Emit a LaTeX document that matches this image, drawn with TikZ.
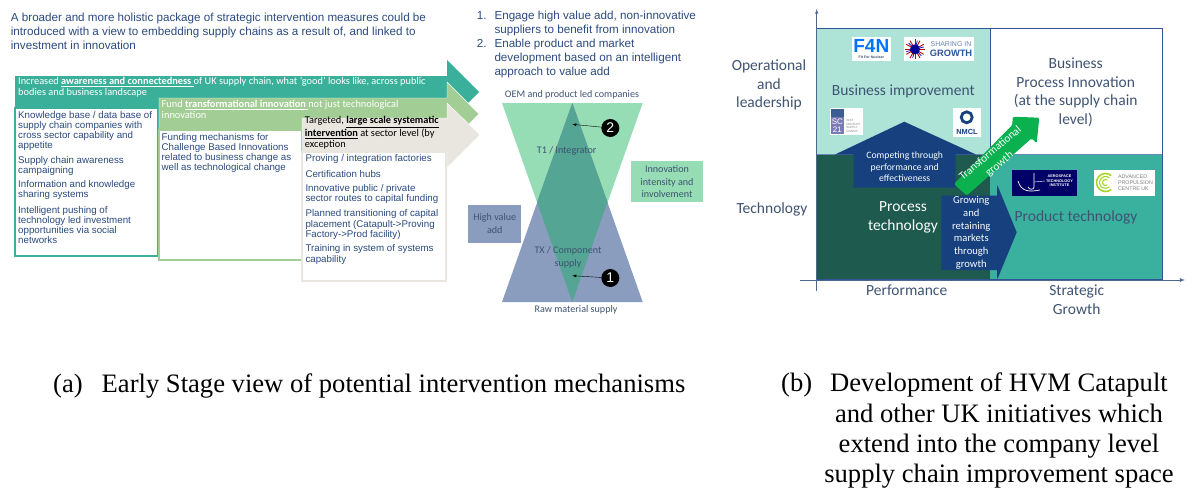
\documentclass[tikz,border=0pt]{standalone}
\usepackage{fontspec}
\setmainfont{Carlito}
\newfontfamily\arialfont{Liberation Sans}
\newfontfamily\timesfont{Liberation Serif}
\definecolor{navytext}{HTML}{2A4A7F}
\definecolor{slatetext}{HTML}{3F5372}
\definecolor{tealband}{HTML}{3AB09A}
\definecolor{greenband}{HTML}{A2CD94}
\definecolor{greyband}{HTML}{E9E6DF}
\definecolor{uppertri}{HTML}{96DDB5}
\definecolor{lowertri}{HTML}{8A9DBF}
\definecolor{overlap}{HTML}{54A594}
\definecolor{paleteal}{HTML}{AEE4D8}
\definecolor{darkteal}{HTML}{1F5A4E}
\definecolor{midteal}{HTML}{3AB09E}
\definecolor{arrowblue}{HTML}{17407F}
\definecolor{framblue}{HTML}{2F5597}
\definecolor{growgreen}{HTML}{0BB14F}
\definecolor{limering}{HTML}{A4D62E}
\tikzset{
  headtext/.style={font=\arialfont\fontsize{11.65}{14}\selectfont, text=navytext, align=left, anchor=west, inner sep=0},
  bodytext/.style={font=\arialfont\fontsize{9.75}{10.1}\selectfont, text=navytext, align=left, anchor=west, inner sep=0},
  bandtext/.style={font=\fontsize{10.35}{11.3}\selectfont, align=left, anchor=west, inner sep=0},
  tritext/.style={font=\fontsize{10.1}{12.7}\selectfont, text=slatetext, align=center, inner sep=0},
  axistext/.style={font=\fontsize{15.5}{18.8}\selectfont, text=slatetext, align=center, inner sep=0},
  cellarrow/.style={font=\fontsize{9.7}{11.8}\selectfont, text=white!90!paleteal, align=center, inner sep=0},
  captiontext/.style={font=\timesfont\fontsize{26.6}{30.3}\selectfont, align=center, inner sep=0},
  logobox/.style={fill=white, draw=none},
  badge/.style={circle, fill=black, text=white, minimum size=18pt, inner sep=0, font=\arialfont\fontsize{14}{14}\selectfont}
}
\begin{document}
\begin{tikzpicture}[x=1pt,y=-1pt]
\useasboundingbox (0,0) rectangle (1186,490);
% left panel
\node[headtext] (intro) at (10.7,31.2) {A broader and more holistic package of strategic intervention measures could be\\introduced with a view to embedding supply chains as a result of, and linked to\\investment in innovation};
\fill[tealband] (15,76) -- (447,76) -- (447,60) -- (479,92) -- (447,124) -- (447,108) -- (15,108) -- cycle;
\draw[tealband, fill=white, line width=1.2pt] (15,108) rectangle (158,256);
\fill[greenband, draw=white] (159,98) -- (447,98) -- (447,82) -- (479,114) -- (447,146) -- (447,130) -- (159,130) -- cycle;
\draw[greenband, fill=white, line width=1.2pt] (159,130) rectangle (302,260);
\fill[greyband, draw=white] (302,118) -- (447,118) -- (447,103) -- (480,135) -- (447,168) -- (447,152) -- (302,152) -- cycle;
\draw[greyband, fill=white, line width=1.2pt] (302,152) rectangle (446,281);
\node[bandtext, text=white] (band1) at (18,87.2) {Increased \textbf{\underline{awareness and connectedness }}of UK supply chain, what ‘good’ looks like,  across public\\bodies and business landscape};
\node[bandtext, text=white] (band2) at (161.5,109.7) {Fund \textbf{\underline{transformational innovation }}not just technological\\innovation};
\node[bandtext, text=black] (band3) at (304.7,133) {Targeted, \textbf{\underline{large scale systematic}}\\\textbf{\underline{intervention}} at sector level (by\\exception};
\node[bodytext] (know) at (18,131) {Knowledge base / data base of\\supply chain companies with\\cross sector capability and\\appetite};
\node[bodytext] (aware) at (18,166) {Supply chain awareness\\campaigning};
\node[bodytext] (share) at (18,190.3) {Information and knowledge\\sharing systems};
\node[bodytext] (push) at (18,225.3) {Intelligent pushing of\\technology led investment\\opportunities via social\\networks};
\node[bodytext] (fund) at (161.5,153) {Funding mechanisms for\\Challenge Based Innovations\\related to business change as\\well as technological change};
\node[bodytext] (prove) at (305.3,159) {Proving / integration factories};
\node[bodytext] (cert) at (305.3,174.3) {Certification hubs};
\node[bodytext] (route) at (305.3,194.3) {Innovative public / private\\sector routes to capital funding};
\node[bodytext] (plan) at (305.3,224.5) {Planned transitioning of capital\\placement (Catapult->Proving\\Factory->Prod facility)};
\node[bodytext] (train) at (305.3,254.5) {Training in system of systems\\capability};
% middle panel
\node[headtext, anchor=north west] (num) at (476.7,11.2) {1.\\[14pt]2.};
\node[headtext, anchor=north west] (goal1) at (494.3,11.2) {Engage high value add, non-innovative\\suppliers to benefit from innovation\\Enable product and market\\development based on an intelligent\\approach to value add};
\fill[uppertri] (502,103) -- (642.7,103) -- (572.3,302) -- cycle;
\fill[lowertri] (502,302) -- (642.7,302) -- (572.3,103) -- cycle;
\fill[overlap] (572.3,103) -- (607.5,202) -- (572.3,302) -- (537,202) -- cycle;
\node[tritext] (oem) at (572,95) {OEM and product led companies};
\node[tritext] (t1) at (566.7,151) {T1 / Integrator};
\node[tritext] (tx) at (568,257) {TX / Component\\supply};
\node[tritext] (raw) at (576,310) {Raw material supply};
\node[tritext, fill=uppertri, minimum width=72.6pt, minimum height=40.7pt] (intens) at (667,181.6) {Innovation\\intensity and\\involvement};
\node[tritext, fill=lowertri, minimum width=53pt, minimum height=38pt] (hva) at (494.8,223.7) {High value\\add};
\coordinate (mark2) at (572.3,124.3);
\coordinate (mark1) at (572.3,275.7);
\node[badge] (two) at (610.3,128) {2};
\node[badge] (one) at (610.3,278) {1};
\draw[-latex, black] (two) -- (mark2);
\draw[-latex, black] (one) -- (mark1);
% right panel
\fill[paleteal] (816.7,28.7) rectangle (990,154);
\fill[darkteal] (816.7,154) rectangle (990,279.3);
\fill[midteal] (990,154) rectangle (1162.3,279.3);
\draw[framblue, line width=.8pt] (816.7,28.7) rectangle (1162.3,279.3);
\draw[framblue, line width=.8pt] (990,28.7) -- (990,154);
\draw[framblue!70, line width=.8pt] (816.7,154) -- (1162.3,154);
\coordinate (xstart) at (800,280);
\coordinate (xend) at (1185,280);
\coordinate (ystart) at (816.7,291);
\coordinate (yend) at (816.7,9);
\draw[-latex, framblue!60!gray, line width=.8pt] (xstart) -- (xend);
\draw[-latex, framblue!60!gray, line width=.6pt] (ystart) -- (yend);
\fill[arrowblue] (904.3,121.7) -- (976,154.5) -- (955.7,154.5) -- (955.7,187.7) -- (853.7,187.7) -- (853.7,154.5) -- (835,154.5) -- cycle;
\fill[arrowblue] (941.3,195.7) -- (997,195.7) -- (997.3,185) -- (1016.7,232.3) -- (997.3,279.3) -- (997,270) -- (941.3,270) -- cycle;
\fill[growgreen, rounded corners=1.5pt] (954,184) -- (1012.3,125) -- (1012.7,116.7) -- (1039.3,117.7) -- (1036.7,143.3) -- (1031.7,138.3) -- (966.7,195.5) -- cycle;
\node[cellarrow] (compete) at (904.7,166.7) {Competing through\\performance and\\effectiveness};
\node[cellarrow, font=\fontsize{10.6}{12.9}\selectfont] (grow) at (971.3,232.8) {Growing\\and\\retaining\\markets\\through\\growth};
\node[cellarrow, rotate=40, font=\fontsize{11.2}{14}\selectfont] (trans) at (995,158.8) {Transformational\\growth};
\node[axistext] (oper) at (769,85) {Operational\\and\\leadership};
\node[axistext] (tech) at (772,209) {Technology};
\node[axistext] (perf) at (906.7,290.7) {Performance};
\node[axistext] (strat) at (1076.7,300) {Strategic\\Growth};
\node[axistext] (bimp) at (903.3,91.7) {Business improvement};
\node[axistext] (bpi) at (1075.7,92.3) {Business\\Process Innovation\\(at the supply chain\\level)};
\node[axistext, text=white!92!paleteal] (ptech) at (903,217) {Process\\technology};
\node[axistext] (prod) at (1076,217.3) {Product technology};
% logos
\fill[logobox] (852,37.3) rectangle (890.7,60.7);
\node[inner sep=0, text=blue!55!cyan, font=\arialfont\bfseries\fontsize{19}{19}\selectfont] (f4n) at (871.3,46) {F4N};
\node[inner sep=0, text=slatetext, font=\arialfont\bfseries\fontsize{3.6}{4}\selectfont] (f4nsub) at (871.3,57.5) {Fit For Nuclear};
\fill[logobox] (904,37.3) rectangle (974,60.7);
\foreach \ang in {0,30,...,330} {
  \draw[red!75!black, line width=.9pt] (915,49.3) -- ++(\ang:10pt);
}
\foreach \ang in {15,75,...,315} {
  \draw[blue!70!black, line width=.7pt] (915,49.3) -- ++(\ang:9pt);
}
\fill[blue!60!black] (915,49.3) circle (5pt);
\node[inner sep=0, text=framblue!70, font=\arialfont\fontsize{7}{7}\selectfont] (sharein) at (951,44) {SHARING IN};
\node[inner sep=0, text=framblue, font=\arialfont\bfseries\fontsize{9.3}{9.3}\selectfont] (growth) at (951,53.5) {GROWTH};
\fill[logobox] (830.3,108.3) rectangle (862.7,134.7);
\fill[arrowblue!85] (830.7,109) rectangle (844,117);
\fill[gray!70!blue!80] (830.7,117) rectangle (844,134);
\node[inner sep=0, text=white, font=\arialfont\fontsize{8}{8}\selectfont, align=center] (sc21) at (837.3,125.5) {SC\\21};
\node[inner sep=0, text=gray, font=\arialfont\fontsize{3}{3.6}\selectfont, align=left] (sc21sub) at (853.5,126) {21ST\\CENTURY\\SUPPLY\\CHAINS};
\fill[logobox] (953.3,108.3) rectangle (981,136.7);
\draw[arrowblue, line width=2.8pt] (966.7,117.3) circle (5.5pt);
\node[inner sep=0, text=arrowblue, font=\arialfont\bfseries\fontsize{7.4}{7.4}\selectfont] (nmcl) at (967,131.8) {NMCL};
\fill[blue!40!black] (1011.7,170) rectangle (1077,195.7);
\draw[white, line width=.7pt] (1018,181) .. controls (1021,192) and (1030,192) .. (1040,190);
\draw[white, line width=.7pt] (1034,173) -- (1034,187) .. controls (1034,190) and (1029,190) .. (1028,187);
\draw[white, line width=.4pt] (1034,182) -- (1045,181);
\node[inner sep=0, text=white, align=center, font=\arialfont\bfseries\fontsize{3.8}{4.6}\selectfont] (ati) at (1059.5,181) {AEROSPACE\\TECHNOLOGY\\INSTITUTE};
\fill[logobox] (1094,170) rectangle (1154.7,195.7);
\draw[limering, line width=1.6pt] (1111.3,175.6) arc (50:310:9pt);
\draw[limering, line width=1.1pt] (1109.4,177.9) arc (50:310:6pt);
\draw[limering, line width=1.1pt] (1107.4,180.2) arc (50:310:3pt);
\node[inner sep=0, text=gray, align=left, font=\arialfont\fontsize{5.3}{6}\selectfont] (apc) at (1135.5,183) {ADVANCED\\PROPULSION\\CENTRE UK};
% captions
\node[captiontext, anchor=west] (capa) at (53,385.5) {(a)\hspace{19pt}Early Stage view of potential intervention mechanisms};
\node[captiontext, anchor=west] (capb) at (781,385.5) {(b)};
\node[captiontext, anchor=north] (capbtext) at (999,373) {Development of HVM Catapult\\and other UK initiatives which\\extend into the company level\\supply chain improvement space};
\end{tikzpicture}
\end{document}
